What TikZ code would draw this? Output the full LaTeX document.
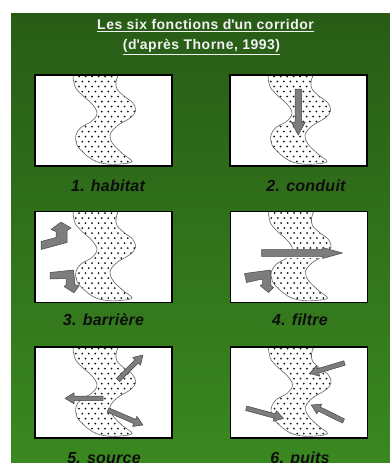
\documentclass[tikz,border=0pt]{standalone}
\usepackage{fontspec}
\setmainfont{Liberation Sans}
\newfontfamily\titlefont[LetterSpace=3.5]{Liberation Sans}
\newfontfamily\labelfont[LetterSpace=1.5]{Liberation Sans}
\usepackage{tikz}
\definecolor{bgtop}{RGB}{40,92,22}
\definecolor{bgbot}{RGB}{58,136,32}
\definecolor{dotc}{RGB}{20,20,20}
\definecolor{edgec}{RGB}{100,100,100}
\definecolor{arrowfill}{RGB}{125,125,125}
\definecolor{arrowedge}{RGB}{70,70,70}

% corridor outline, local pixel coordinates of one box
\newcommand{\corridor}[1]{%
  \path[#1] plot[smooth cycle, tension=0.6] coordinates {
    (40,-4) (39.5,10) (46,19) (57,29) (62,38) (57,46) (46,52.5) (41,60)
    (42,70) (50,79) (60,86) (72,89) (85,89) (97,86.5)
    (88,79) (78,69) (75,60) (82,51) (95,43) (100.5,36) (98,28)
    (89,21) (82,14) (81,7) (82,-4) (61,-6)};
}
% white box with the dotted corridor
\newcommand{\corridorbox}{%
  \fill[white] (0,0) rectangle (137,91);
  \begin{scope}
    \clip (0,0) rectangle (137,91);
    \begin{scope}
      \corridor{clip}
      \foreach \r in {0,...,18}
        \foreach \c in {0,...,12}
          \fill[dotc] ({31+6.5*\c+3.25*mod(\r,2)},{1.5+5*\r}) circle (1pt);
    \end{scope}
    \corridor{draw=edgec, line width=0.6pt}
  \end{scope}
}
% block arrow: shaft half width, head half width, head length, x1, y1, x2, y2
\newcommand{\fatarrow}[7]{%
  \pgfmathsetmacro\arlen{veclen(#6-#4,#7-#5)}
  \pgfmathsetmacro\arang{atan2(#5-#7,#6-#4)}
  \pgfmathsetmacro\arneck{\arlen-#3}
  \filldraw[arrowc, shift={(#4,#5)}, rotate=\arang]
    (0,-#1) -- (\arneck,-#1) -- (\arneck,-#2) -- (\arlen,0)
    -- (\arneck,#2) -- (\arneck,#1) -- (0,#1) -- cycle;
}

\begin{document}
\begin{tikzpicture}[x=1pt, y=-1pt,
  arrowc/.style={fill=arrowfill, draw=arrowedge, line width=0.5pt, line join=round},
  boxline/.style={draw=black, line width=1.3pt},
  ttl/.style={font=\titlefont\fontsize{14}{17}\selectfont\bfseries, text=white!95!black, inner sep=0pt},
  lbl/.style={font=\labelfont\fontsize{16}{19}\selectfont\bfseries\itshape, text=black!95, inner sep=0pt}]
  \useasboundingbox (0,0) rectangle (390,463);
  \fill[white] (0,0) rectangle (390,463);
  \shade[top color=bgtop, bottom color=bgbot] (11,13) rectangle (390,463);

  % title
  \node[ttl, anchor=base] (title1) at (205.5,29.3) {\underline{Les six fonctions d\textquotesingle un corridor}};
  \node[ttl, anchor=base] (title2) at (201.5,49.5) {\underline{(d\textquotesingle après Thorne, 1993)}};

  % 1. habitat
  \begin{scope}[shift={(35,75)}]
    \corridorbox
    \draw[boxline] (0,0) rectangle (137,91);
  \end{scope}
  \node[lbl, anchor=base] (lab1) at (108,191.5) {1. habitat};

  % 2. conduit
  \begin{scope}[shift={(230,75)}]
    \corridorbox
    \fatarrow{3.3}{7}{13}{68.3}{14}{68.3}{60}
    \draw[boxline] (0,0) rectangle (137,91);
  \end{scope}
  \node[lbl, anchor=base] (lab2) at (306,191.5) {2. conduit};

  % 3. barriere -- deflected arrows
  \begin{scope}[shift={(35,211.5)}]
    \corridorbox
    \filldraw[arrowc] (6,30) -- (21,26) -- (21,20) -- (16,18) -- (26,10.5)
      -- (36,16.5) -- (32,19) -- (32,31) -- (6,38) -- cycle;
    \filldraw[arrowc] (15,61) -- (38.5,58.5) -- (40,73) -- (44,74.5) -- (39,81.3)
      -- (29,75) -- (31,73.5) -- (31,67) -- (15,67.5) -- cycle;
    \draw[boxline] (0,0) rectangle (137,91);
  \end{scope}
  \node[lbl, anchor=base] (lab3) at (103.5,325.7) {3. barrière};

  % 4. filtre
  \begin{scope}[shift={(230.5,211.5)}]
    \corridorbox
    \fill[white] (30,37) rectangle (115,46);
    \fatarrow{3.3}{5.5}{20}{31}{41.5}{112}{41.5}
    \filldraw[arrowc] (14,62) -- (40,58.5) -- (40.5,74) -- (43,76) -- (38,81)
      -- (29.5,74) -- (32,73) -- (32,67.5) -- (16,71) -- cycle;
    \draw[boxline] (0,0) rectangle (137,91);
  \end{scope}
  \node[lbl, anchor=base] (lab4) at (300,325.7) {4. filtre};

  % 5. source
  \begin{scope}[shift={(35,347)}]
    \corridorbox
    \foreach \xa/\ya/\xb/\yb in {83/33/108/8, 68/51.3/30/51.3, 73/63/108/78}
      \fatarrow{2.3}{5.5}{9}{\xa}{\ya}{\xb}{\yb}
    \draw[boxline] (0,0) rectangle (137,91);
  \end{scope}
  \node[lbl, anchor=base] (lab5) at (104,463) {5. source};

  % 6. puits
  \begin{scope}[shift={(230.5,347)}]
    \corridorbox
    \foreach \xa/\ya/\xb/\yb in {114/16/79/26.5, 15.7/61.3/53/71.3, 113/74/80.7/58}
      \fatarrow{2.3}{5.5}{9}{\xa}{\ya}{\xb}{\yb}
    \draw[boxline] (0,0) rectangle (137,91);
  \end{scope}
  \node[lbl, anchor=base] (lab6) at (300,463) {6. puits};
\end{tikzpicture}
\end{document}
